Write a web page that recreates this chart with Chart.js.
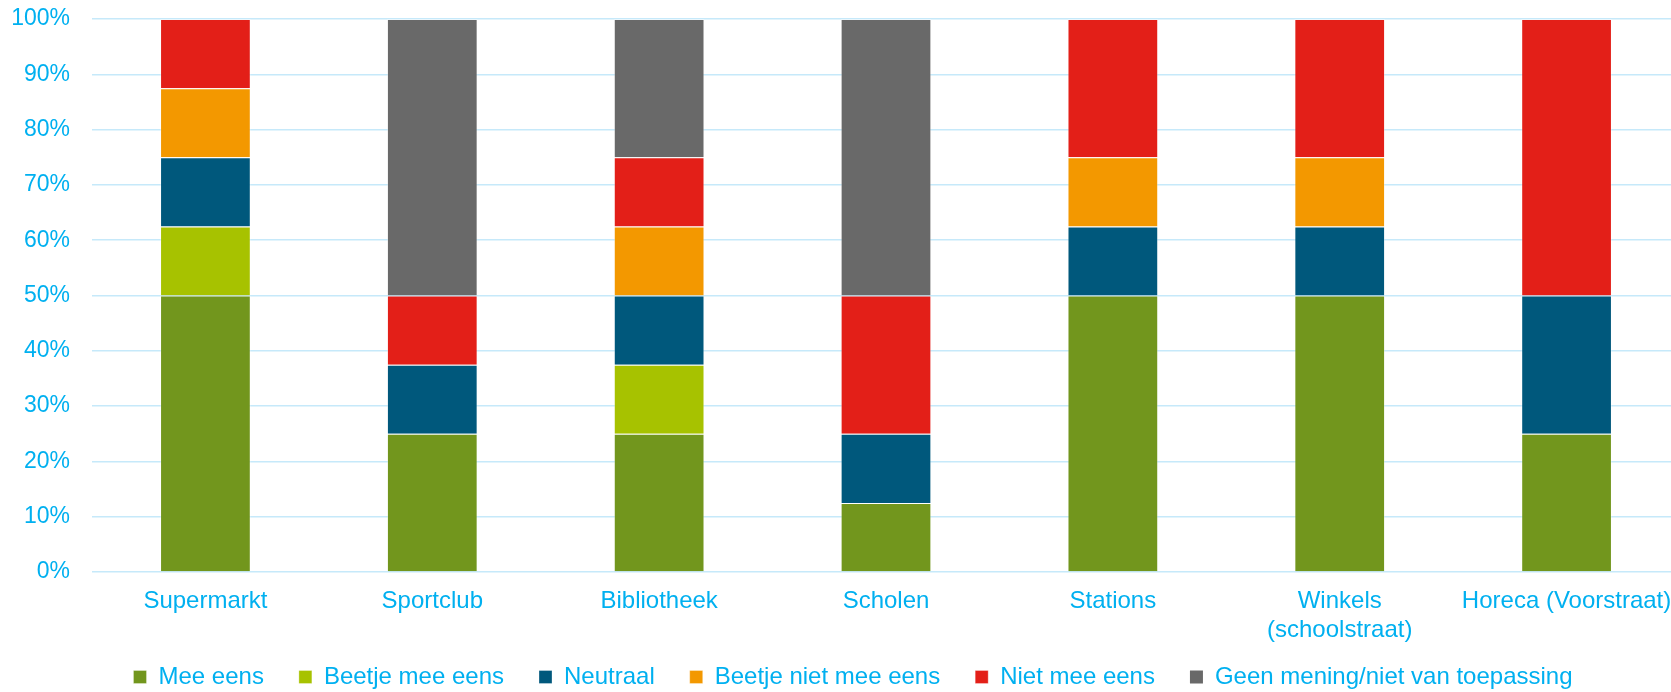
<!DOCTYPE html>
<html>
<head>
<meta charset="utf-8">
<script src="https://cdn.jsdelivr.net/npm/chart.js@4.4.1/dist/chart.umd.min.js"></script>
<style>
  html, body { margin: 0; padding: 0; background: #fff; overflow: hidden; }
  #wrap { width: 1712px; height: 692px; }
</style>
</head>
<body>
<div id="wrap"><canvas id="chart" width="1712" height="692"></canvas></div>
<script>
/* data */
const categories = ["Supermarkt", "Sportclub", "Bibliotheek", "Scholen", "Stations", ["Winkels", "(schoolstraat)"], "Horeca (Voorstraat)"];
const meeEens        = [50,   25,   25,   12.5, 50,   50,   25];
const beetjeMeeEens  = [12.5, 0,    12.5, 0,    0,    0,    0];
const neutraal       = [12.5, 12.5, 12.5, 12.5, 12.5, 12.5, 25];
const beetjeNietMee  = [12.5, 0,    12.5, 0,    12.5, 12.5, 0];
const nietMeeEens    = [12.5, 12.5, 12.5, 25,   25,   25,   50];
const geenMening     = [0,    50,   25,   50,   0,    0,    0];
const yTicks = [0, 10, 20, 30, 40, 50, 60, 70, 80, 90, 100];

const textColor = "#00b0f0";
const font = "'Liberation Sans', Arial, sans-serif";

function series(label, data, color) {
  return {
    label: label,
    data: data,
    backgroundColor: color,
    borderColor: "rgba(255,255,255,0.3)",
    borderWidth: ctx => (ctx.raw ? 1 : 0),
    barPercentage: 0.4,
    categoryPercentage: 1
  };
}

// legend: fixed box height, row drawn a bit higher and nudged right
// (labels.padding sets both the item gap and the top offset)
const legendTweak = {
  id: "legendTweak",
  beforeInit(chart) {
    const lg = chart.legend;
    const fit = lg.fit;
    lg.fit = function () {
      fit.call(this);
      this.height = 50;
    };
    const draw = lg.draw;
    lg.draw = function () {
      const top = this.top;
      this.top = top - 12;
      this.ctx.save();
      this.ctx.translate(13, 0);
      draw.call(this);
      this.ctx.restore();
      this.top = top;
    };
  }
};

new Chart(document.getElementById("chart"), {
  type: "bar",
  data: {
    labels: categories,
    datasets: [
      series("Mee eens", meeEens, "#72961d"),
      series("Beetje mee eens", beetjeMeeEens, "#a7c200"),
      series("Neutraal", neutraal, "#00587c"),
      series("Beetje niet mee eens", beetjeNietMee, "#f39800"),
      series("Niet mee eens", nietMeeEens, "#e31f18"),
      series("Geen mening/niet van toepassing", geenMening, "#696969")
    ]
  },
  options: {
    responsive: false,
    animation: false,
    devicePixelRatio: 1,
    layout: { padding: { left: 0, right: 32, top: 0, bottom: 0 } },
    scales: {
      x: {
        stacked: true,
        grid: { display: false },
        border: { display: false },
        ticks: {
          color: textColor,
          font: { family: font, size: 24 },
          padding: 7,
          maxRotation: 0,
          autoSkip: false
        },
        afterFit(scale) { scale.height = 70; }
      },
      y: {
        stacked: true,
        min: 0,
        max: 100,
        afterBuildTicks(scale) { scale.ticks = yTicks.map(v => ({ value: v })); },
        grid: { color: "#c6e9fa", lineWidth: 1.5, drawTicks: false },
        border: { display: false },
        ticks: {
          color: textColor,
          font: { family: font, size: 23 },
          padding: 22,
          callback: v => v + "%"
        },
        afterFit(scale) {
          scale.width = 92;
          scale.paddingTop = 19;
        }
      }
    },
    plugins: {
      legend: {
        position: "bottom",
        labels: {
          color: textColor,
          font: { family: font, size: 24 },
          boxWidth: 13,
          boxHeight: 13,
          padding: 35
        }
      },
      tooltip: { enabled: false }
    }
  },
  plugins: [legendTweak]
});
</script>
</body>
</html>
